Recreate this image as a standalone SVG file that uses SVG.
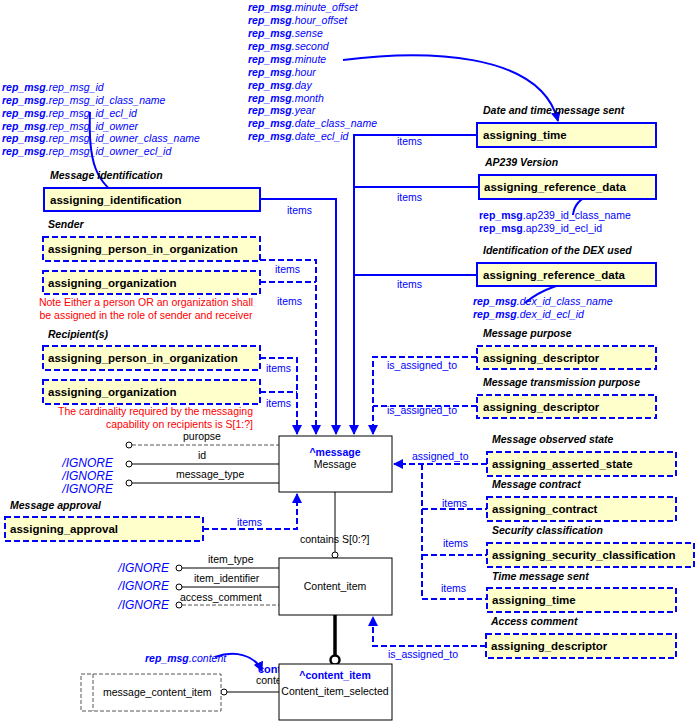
<svg xmlns="http://www.w3.org/2000/svg" width="696" height="722" viewBox="0 0 696 722">
<style>
text{font-family:"Liberation Sans",Arial,sans-serif;font-size:10.5px}
.bx{fill:#ffffcc;stroke:#0000ff;stroke-width:2}
.dbx{fill:#ffffcc;stroke:#0000ff;stroke-width:2;stroke-dasharray:6,3}
.bt{font-weight:bold;font-size:11.5px;fill:#000}
.cap{font-weight:bold;font-style:italic;fill:#000;font-size:10.5px}
.ent{fill:#fff;stroke:#000;stroke-width:1}
.bl{fill:#0000ff}
.rm{fill:#0000ff;font-style:italic}
.rm tspan.b{font-weight:bold}
.red{fill:#ff0000}
.ig{fill:#0000ff;font-style:italic;font-size:12px}
.c{stroke:#0000ff;stroke-width:2;fill:none}
.dc{stroke:#0000ff;stroke-width:2;fill:none;stroke-dasharray:6,3}
.at{stroke:#555;stroke-width:1.5;fill:none}
.dat{stroke:#555;stroke-width:1;fill:none;stroke-dasharray:4,2}
.ci{fill:#fff;stroke:#000;stroke-width:1}
</style>
<defs>
<marker id="ar" markerWidth="10" markerHeight="10" refX="9" refY="5" orient="auto" markerUnits="userSpaceOnUse"><path d="M0,0 L10,5 L0,10 z" fill="#0000ff"/></marker>
</defs>

<g id="connectors">
<!-- items to message -->
<path class="c" d="M477,135 H354 V434" marker-end="url(#ar)"/>
<path class="c" d="M479,187 H354"/>
<path class="c" d="M477,275 H354"/>
<text class="bl" x="397" y="145">items</text>
<text class="bl" x="397" y="201">items</text>
<text class="bl" x="397" y="288">items</text>
<path class="c" d="M260,199 H336 V434" marker-end="url(#ar)"/>
<text class="bl" x="287" y="214">items</text>
<path class="dc" d="M260,260 H316 V434" marker-end="url(#ar)"/>
<path class="dc" d="M260,282 H316"/>
<text class="bl" x="275" y="273">items</text>
<text class="bl" x="277" y="305">items</text>
<path class="dc" d="M260,358 H297 V434" marker-end="url(#ar)"/>
<path class="dc" d="M260,392 H297"/>
<text class="bl" x="266" y="372">items</text>
<text class="bl" x="266" y="407">items</text>
<path class="dc" d="M477,357 H373 V434" marker-end="url(#ar)"/>
<path class="dc" d="M477,406 H373"/>
<text class="bl" x="387" y="369">is_assigned_to</text>
<text class="bl" x="387" y="414">is_assigned_to</text>
<path class="dc" d="M487,464 H394" marker-end="url(#ar)"/>
<text class="bl" x="412" y="460">assigned_to</text>
<path class="dc" d="M422,464 V599 H487"/>
<path class="dc" d="M422,509 H487"/>
<path class="dc" d="M422,555 H487"/>
<text class="bl" x="442" y="507">items</text>
<text class="bl" x="443" y="547">items</text>
<text class="bl" x="441" y="592">items</text>
<path class="dc" d="M486,646 H373 V617" marker-end="url(#ar)"/>
<text class="bl" x="388" y="658">is_assigned_to</text>
<path class="dc" d="M203,529 H297 V494" marker-end="url(#ar)"/>
<text class="bl" x="237" y="526">items</text>
<!-- message to content_item -->
<line x1="335" y1="492" x2="335" y2="552" stroke="#000" stroke-width="1"/>
<circle class="ci" cx="335" cy="555" r="3"/>
<text x="300" y="543" fill="#000">contains S[0:?]</text>
<line x1="335" y1="615" x2="335" y2="656" stroke="#000" stroke-width="3.5"/>
<circle cx="335" cy="660" r="4.5" fill="#fff" stroke="#000" stroke-width="2.5"/>
<line x1="279" y1="692" x2="227" y2="692" class="at"/>
<circle class="ci" cx="224" cy="692" r="3"/>
<text x="258" y="673" class="bl" font-weight="bold" style="font-size:11px">content</text>
<text x="256" y="684" fill="#000">contents</text>
<!-- message attributes -->
<line class="dat" x1="132" y1="445" x2="279" y2="445"/>
<circle class="ci" cx="129" cy="445" r="3"/>
<text x="183" y="440" fill="#000">puropse</text>
<line class="at" x1="132" y1="464" x2="279" y2="464"/>
<circle class="ci" cx="129" cy="464" r="3"/>
<text x="198" y="459" fill="#000">id</text>
<line class="at" x1="132" y1="483" x2="279" y2="483"/>
<circle class="ci" cx="129" cy="483" r="3"/>
<text x="176" y="478" fill="#000">message_type</text>
<text class="ig" x="113" y="467" text-anchor="end">/IGNORE</text>
<text class="ig" x="113" y="480" text-anchor="end">/IGNORE</text>
<text class="ig" x="113" y="493" text-anchor="end">/IGNORE</text>
<!-- content item attributes -->
<line class="at" x1="182" y1="568" x2="279" y2="568"/>
<circle class="ci" cx="179" cy="568" r="3"/>
<text x="208" y="563" fill="#000">item_type</text>
<line class="at" x1="182" y1="587" x2="279" y2="587"/>
<circle class="ci" cx="179" cy="587" r="3"/>
<text x="194" y="582" fill="#000">item_identifier</text>
<line class="dat" x1="182" y1="605" x2="279" y2="605"/>
<circle class="ci" cx="179" cy="605" r="3"/>
<text x="180" y="601" fill="#000">access_comment</text>
<text class="ig" x="169" y="572" text-anchor="end">/IGNORE</text>
<text class="ig" x="169" y="590" text-anchor="end">/IGNORE</text>
<text class="ig" x="169" y="609" text-anchor="end">/IGNORE</text>
<!-- curved mapping arrows -->
<path class="c" d="M90,112 C88,160 95,185 125,199" marker-end="url(#ar)"/>
<path class="c" d="M343,60 C420,50 540,50 558,121" marker-end="url(#ar)"/>
<path class="c" d="M573,215 C575,195 600,188 627,192" marker-end="url(#ar)"/>
<path class="c" d="M525,303 C540,290 565,280 597,279" marker-end="url(#ar)"/>
<path class="c" d="M215,657 C235,650 255,655 262,671" marker-end="url(#ar)"/>
</g>

<!-- text blocks -->
<g id="rep_msg_id" class="rm">
<text x="2" y="91"><tspan class="b">rep_msg</tspan>.rep_msg_id</text>
<text x="2" y="104"><tspan class="b">rep_msg</tspan>.rep_msg_id_class_name</text>
<text x="2" y="117"><tspan class="b">rep_msg</tspan>.rep_msg_id_ecl_id</text>
<text x="2" y="130"><tspan class="b">rep_msg</tspan>.rep_msg_id_owner</text>
<text x="2" y="142"><tspan class="b">rep_msg</tspan>.rep_msg_id_owner_class_name</text>
<text x="2" y="155"><tspan class="b">rep_msg</tspan>.rep_msg_id_owner_ecl_id</text>
</g>
<g id="rep_msg_time" class="rm">
<text x="248" y="11"><tspan class="b">rep_msg</tspan>.minute_offset</text>
<text x="248" y="24"><tspan class="b">rep_msg</tspan>.hour_offset</text>
<text x="248" y="37"><tspan class="b">rep_msg</tspan>.sense</text>
<text x="248" y="50"><tspan class="b">rep_msg</tspan>.second</text>
<text x="248" y="63"><tspan class="b">rep_msg</tspan>.minute</text>
<text x="248" y="76"><tspan class="b">rep_msg</tspan>.hour</text>
<text x="248" y="89"><tspan class="b">rep_msg</tspan>.day</text>
<text x="248" y="102"><tspan class="b">rep_msg</tspan>.month</text>
<text x="248" y="114"><tspan class="b">rep_msg</tspan>.year</text>
<text x="248" y="127"><tspan class="b">rep_msg</tspan>.date_class_name</text>
<text x="248" y="140"><tspan class="b">rep_msg</tspan>.date_ecl_id</text>
</g>
<g id="rep_msg_ap239" class="bl">
<text x="479" y="219"><tspan font-weight="bold">rep_msg</tspan>.ap239_id_class_name</text>
<text x="479" y="232"><tspan font-weight="bold">rep_msg</tspan>.ap239_id_ecl_id</text>
</g>
<g id="rep_msg_dex" class="rm">
<text x="473" y="305"><tspan class="b">rep_msg</tspan>.dex_id_class_name</text>
<text x="473" y="318"><tspan class="b">rep_msg</tspan>.dex_id_ecl_id</text>
</g>
<g id="rep_msg_content" class="rm"><text x="145" y="662"><tspan class="b">rep_msg</tspan>.content</text></g>

<g id="notes">
<text class="red" x="146" y="306" text-anchor="middle">Note Either a person OR an organization shall</text>
<text class="red" x="146" y="319" text-anchor="middle">be assigned in the role of sender and receiver</text>
<text class="red" x="253" y="415" text-anchor="end">The cardinality required by the messaging</text>
<text class="red" x="253" y="428" text-anchor="end">capability on recipients is S[1:?]</text>
</g>

<g id="captions">
<text class="cap" x="50" y="179">Message identification</text>
<text class="cap" x="48" y="228">Sender</text>
<text class="cap" x="48" y="338">Recipient(s)</text>
<text class="cap" x="10" y="509">Message approval</text>
<text class="cap" x="483" y="114">Date and time message sent</text>
<text class="cap" x="485" y="166">AP239 Version</text>
<text class="cap" x="483" y="254">Identification of the DEX used</text>
<text class="cap" x="483" y="337">Message purpose</text>
<text class="cap" x="483" y="386">Message transmission purpose</text>
<text class="cap" x="492" y="443">Message observed state</text>
<text class="cap" x="492" y="488">Message contract</text>
<text class="cap" x="492" y="534">Security classification</text>
<text class="cap" x="492" y="580">Time message sent</text>
<text class="cap" x="491" y="625">Access comment</text>
</g>

<g id="n_ident"><rect class="bx" x="44" y="188" width="216" height="23"/><text class="bt" x="50" y="204">assigning_identification</text></g>
<g id="n_s_person"><rect class="dbx" x="43" y="237" width="217" height="24"/><text class="bt" x="48" y="253">assigning_person_in_organization</text></g>
<g id="n_s_org"><rect class="dbx" x="43" y="271" width="217" height="23"/><text class="bt" x="48" y="287">assigning_organization</text></g>
<g id="n_r_person"><rect class="dbx" x="43" y="346" width="217" height="24"/><text class="bt" x="48" y="362">assigning_person_in_organization</text></g>
<g id="n_r_org"><rect class="dbx" x="43" y="380" width="217" height="24"/><text class="bt" x="48" y="396">assigning_organization</text></g>
<g id="n_approval"><rect class="dbx" x="5" y="517" width="198" height="24"/><text class="bt" x="10" y="533">assigning_approval</text></g>

<g id="n_time1"><rect class="bx" x="477" y="123" width="179" height="24"/><text class="bt" x="483" y="139">assigning_time</text></g>
<g id="n_ref1"><rect class="bx" x="479" y="175" width="177" height="24"/><text class="bt" x="484" y="191">assigning_reference_data</text></g>
<g id="n_ref2"><rect class="bx" x="477" y="263" width="179" height="23"/><text class="bt" x="483" y="279">assigning_reference_data</text></g>
<g id="n_desc1"><rect class="dbx" x="477" y="346" width="179" height="23"/><text class="bt" x="483" y="362">assigning_descriptor</text></g>
<g id="n_desc2"><rect class="dbx" x="477" y="395" width="179" height="23"/><text class="bt" x="483" y="411">assigning_descriptor</text></g>
<g id="n_state"><rect class="dbx" x="487" y="452" width="189" height="24"/><text class="bt" x="492" y="468">assigning_asserted_state</text></g>
<g id="n_contract"><rect class="dbx" x="487" y="497" width="189" height="24"/><text class="bt" x="492" y="513">assigning_contract</text></g>
<g id="n_security"><rect class="dbx" x="487" y="543" width="207" height="24"/><text class="bt" x="492" y="559">assigning_security_classification</text></g>
<g id="n_time2"><rect class="dbx" x="487" y="588" width="189" height="24"/><text class="bt" x="492" y="604">assigning_time</text></g>
<g id="n_desc3"><rect class="dbx" x="486" y="634" width="190" height="24"/><text class="bt" x="491" y="650">assigning_descriptor</text></g>

<g id="n_message"><rect class="ent" x="279" y="436" width="113" height="56"/>
<text x="335" y="456" text-anchor="middle" class="bl" font-weight="bold">^message</text>
<text x="335" y="468" text-anchor="middle" fill="#000">Message</text></g>
<g id="n_content_item"><rect class="ent" x="279" y="558" width="113" height="57"/>
<text x="335" y="590" text-anchor="middle" fill="#000">Content_item</text></g>
<g id="n_selected"><rect class="ent" x="279" y="664" width="113" height="56"/>
<text x="335" y="679" text-anchor="middle" class="bl" font-weight="bold">^content_item</text>
<text x="335" y="695" text-anchor="middle" fill="#000">Content_item_selected</text></g>
<g id="n_mci"><rect x="81" y="674" width="140" height="37" fill="#fff" stroke="#555" stroke-dasharray="4,2"/>
<line x1="93" y1="674" x2="93" y2="711" stroke="#555" stroke-dasharray="4,2"/>
<text x="103" y="696" fill="#000">message_content_item</text></g>
</svg>
